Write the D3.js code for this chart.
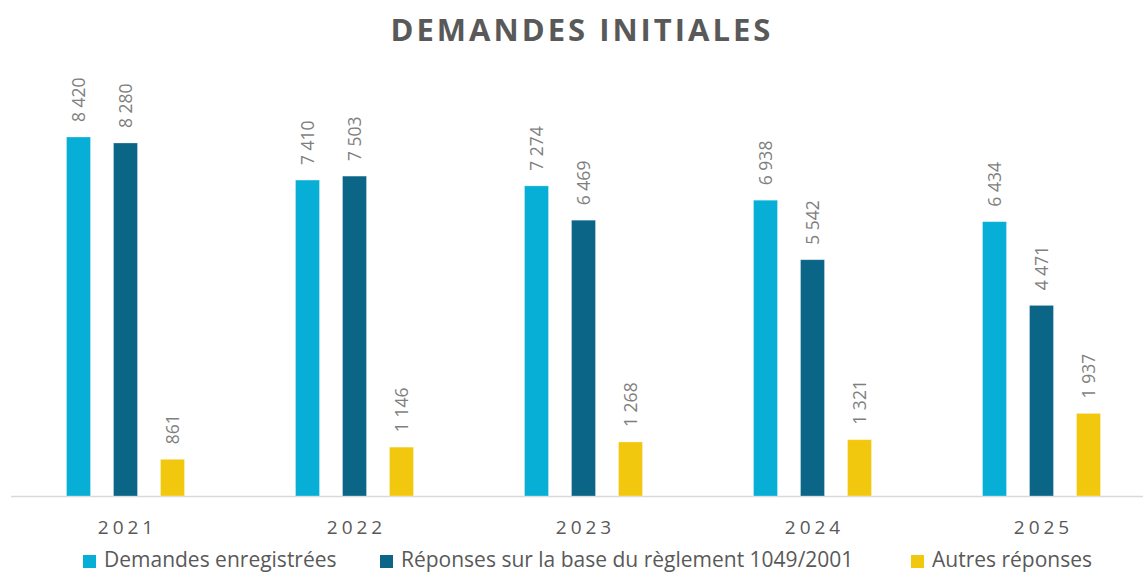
<!DOCTYPE html>
<html>
<head>
<meta charset="utf-8">
<script src="https://cdn.jsdelivr.net/npm/d3@7"></script>
<style>
  body { margin: 0; background: #fff; }
  svg { display: block; font-family: "Open Sans", sans-serif; }
</style>
</head>
<body>
<div id="chart"></div>
<script>
// data
var years = ["2021", "2022", "2023", "2024", "2025"];
var seriesNames = ["Demandes enregistrées", "Réponses sur la base du règlement 1049/2001", "Autres réponses"];
var demandes = [8420, 7410, 7274, 6938, 6434];
var reponses1049 = [8280, 7503, 6469, 5542, 4471];
var autres = [861, 1146, 1268, 1321, 1937];
var colors = ["#07AED5", "#0B6587", "#F2C80F"];

var width = 1143, height = 573;
var svg = d3.select("#chart").append("svg").attr("width", width).attr("height", height);

var baseY = 496;
var barW = 24;

// scales
var x0 = d3.scaleBand().domain(years).range([11, 1156]);
var x1 = d3.scalePoint().domain([0, 1, 2]).range([x0.bandwidth() / 2 - 47, x0.bandwidth() / 2 + 47]);
var y = d3.scaleLinear().domain([0, 8420]).range([baseY, 137]);

var series = [demandes, reponses1049, autres];
var rows = [];
years.forEach(function (yr, i) {
    series.forEach(function (s, k) {
        rows.push({ year: yr, k: k, value: s[i] });
    });
});

// title
svg.append("text")
    .attr("x", 582)
    .attr("y", 41)
    .attr("text-anchor", "middle")
    .style("font-size", "31px")
    .style("font-weight", "bold")
    .style("letter-spacing", "3px")
    .style("fill", "#595959")
    .text("DEMANDES INITIALES");

// axis line
svg.append("line")
    .attr("x1", 11).attr("x2", 1156)
    .attr("y1", baseY + 0.5).attr("y2", baseY + 0.5)
    .style("stroke", "#d9d9d9")
    .style("stroke-width", 1.5);

// bars
var g = svg.append("g");
g.selectAll("rect")
    .data(rows)
    .enter()
    .append("rect")
    .attr("x", function (d) { return x0(d.year) + x1(d.k) - barW / 2; })
    .attr("y", function (d) { return y(d.value); })
    .attr("width", barW)
    .attr("height", function (d) { return baseY - y(d.value); })
    .style("fill", function (d) { return colors[d.k]; })
    .style("stroke", "#ffffff")
    .style("stroke-opacity", 0.4)
    .style("stroke-width", 0.75);

// value labels
var fmt = function (v) { return d3.format(",")(v).replace(",", " "); };
g.selectAll("text.val")
    .data(rows)
    .enter()
    .append("text")
    .attr("class", "val")
    .attr("transform", function (d) {
        var cx = x0(d.year) + x1(d.k) + 6;
        var cy = y(d.value) - 15;
        return "translate(" + cx + "," + cy + ") rotate(-90)";
    })
    .style("font-size", "17.5px")
    .style("fill", "#7f7f7f")
    .text(function (d) { return fmt(d.value); });

// x labels
svg.selectAll("text.year")
    .data(years)
    .enter()
    .append("text")
    .attr("class", "year")
    .attr("x", function (d) { return x0(d) + x0.bandwidth() / 2 + 2; })
    .attr("y", 534)
    .attr("text-anchor", "middle")
    .style("font-size", "19px")
    .style("letter-spacing", "4px")
    .style("fill", "#595959")
    .text(function (d) { return d; });

// legend
var legendX = [83, 380, 911];
var leg = svg.selectAll("g.leg")
    .data(seriesNames)
    .enter()
    .append("g")
    .attr("class", "leg")
    .attr("transform", function (d, i) { return "translate(" + legendX[i] + ",553)"; });
leg.append("rect")
    .attr("y", 2)
    .attr("width", 13).attr("height", 13)
    .style("fill", function (d, i) { return colors[i]; });
leg.append("text")
    .attr("x", 21)
    .attr("y", 14)
    .style("font-size", "21px")
    .style("fill", "#595959")
    .text(function (d) { return d; });
</script>
</body>
</html>
